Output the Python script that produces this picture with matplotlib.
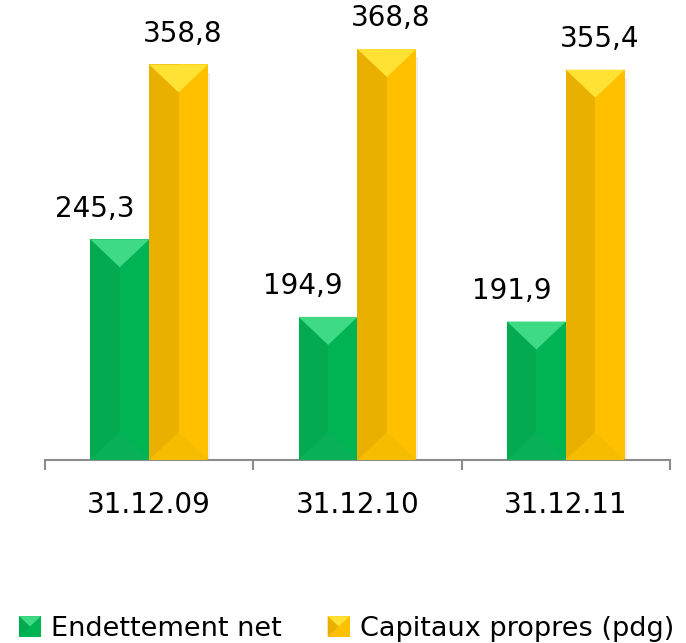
import numpy as np
import matplotlib
matplotlib.use("Agg")
import matplotlib.pyplot as plt
from matplotlib.patches import Polygon, Rectangle
from matplotlib.legend_handler import HandlerPatch

# data
dates = ["31.12.09", "31.12.10", "31.12.11"]
endettement = [245.3, 194.9, 191.9]
capitaux = [358.8, 368.8, 355.4]
labels_series = ["Endettement net", "Capitaux propres (pdg)"]

# colours: main, left half, top bevel, bottom bevel
green = dict(main="#00B353", left="#03AA50", top="#3FDB84", bottom="#08B157")
yellow = dict(main="#FFC000", left="#E9B000", top="#FFE234", bottom="#F6BC00")

plt.rcParams["font.family"] = ["DejaVu Sans"]

fig = plt.figure(figsize=(6.86, 6.43), dpi=100)
ax = fig.add_axes([45 / 686, (643 - 460) / 643, 625 / 686, 459 / 643])

x = np.arange(len(dates))
w = 0.283
off = 0.141
ax.set_xlim(-0.5, 2.5)
ax.set_ylim(102, 400)

bars_g = ax.bar(x - off, endettement, w, bottom=0, color=green["main"], zorder=2)
bars_y = ax.bar(x + off, capitaux, w, bottom=0, color=yellow["main"], zorder=2)

# bevel depth: 28 px converted to data units
px_per_unit = (ax.transData.transform((0, 200))[1] - ax.transData.transform((0, 100))[1]) / 100
depth = 28 / px_per_unit
ybot = ax.get_ylim()[0]


def bevel(bars, col):
    for b in bars:
        x0 = b.get_x()
        x1 = x0 + b.get_width()
        xc = (x0 + x1) / 2
        top = b.get_height()
        ax.add_patch(Rectangle((x0, ybot), xc - x0, top - ybot, color=col["left"], lw=0, zorder=3))
        ax.add_patch(Polygon([(x0, top), (x1, top), (xc, top - depth)], closed=True,
                             color=col["top"], lw=0, zorder=4))
        ax.add_patch(Polygon([(x0, ybot), (x1, ybot), (xc, ybot + depth)], closed=True,
                             color=col["bottom"], lw=0, zorder=4))
        # soft shadow on the right
        ax.add_patch(Rectangle((x1, ybot), 0.01, top - ybot - depth * 0.3, color="#e4e4e4",
                               lw=0, zorder=1, alpha=0.6))


bevel(bars_g, green)
bevel(bars_y, yellow)

for b, v in zip(bars_g, endettement):
    ax.annotate(f"{v:.1f}".replace(".", ","), (b.get_x() + b.get_width() / 2, v),
                xytext=(-18, 12), textcoords="offset points", ha="center", va="bottom",
                fontsize=20)
for b, v in zip(bars_y, capitaux):
    ax.annotate(f"{v:.1f}".replace(".", ","), (b.get_x() + b.get_width() / 2, v),
                xytext=(3, 12), textcoords="offset points", ha="center", va="bottom",
                fontsize=20)

for s in ["top", "right", "left"]:
    ax.spines[s].set_visible(False)
ax.spines["bottom"].set_color("#8c8c8c")
ax.spines["bottom"].set_linewidth(1.5)
ax.set_yticks([])
ax.set_xticks(x)
ax.set_xticklabels(dates, fontsize=20)
ax.tick_params(axis="x", which="major", length=0, pad=22)
ax.set_xticks([-0.5, 0.5, 1.5, 2.5], minor=True)
ax.tick_params(axis="x", which="minor", length=7.5, width=1.5, color="#8c8c8c", direction="out")


class BevelHandler(HandlerPatch):
    def __init__(self, col):
        super().__init__()
        self.col = col

    def create_artists(self, legend, orig_handle, xdescent, ydescent, width, height, fontsize, trans):
        x0, y0 = -xdescent, -ydescent
        x1, y1 = x0 + width, y0 + height
        xm, ym = (x0 + x1) / 2, (y0 + y1) / 2
        c = self.col
        parts = [
            Rectangle((x0, y0), width, height, color=c["main"], lw=0),
            Polygon([(x0, y1), (x1, y1), (xm, ym)], closed=True, color=c["top"], lw=0),
            Polygon([(x0, y0), (x0, y1), (xm, ym)], closed=True, color=c["left"], lw=0),
        ]
        for p in parts:
            p.set_transform(trans)
        return parts


h1 = Rectangle((0, 0), 1, 1)
h2 = Rectangle((0, 0), 1, 1)
fig.legend([h1, h2], labels_series, loc="center", bbox_to_anchor=(0.505, 1 - 629 / 643),
           ncol=2, frameon=False, fontsize=19.5, handlelength=0.81, handleheight=0.81,
           handletextpad=0.37, columnspacing=1.7, borderpad=0.1,
           handler_map={h1: BevelHandler(green), h2: BevelHandler(yellow)})

fig.savefig("out.png", dpi=100)
